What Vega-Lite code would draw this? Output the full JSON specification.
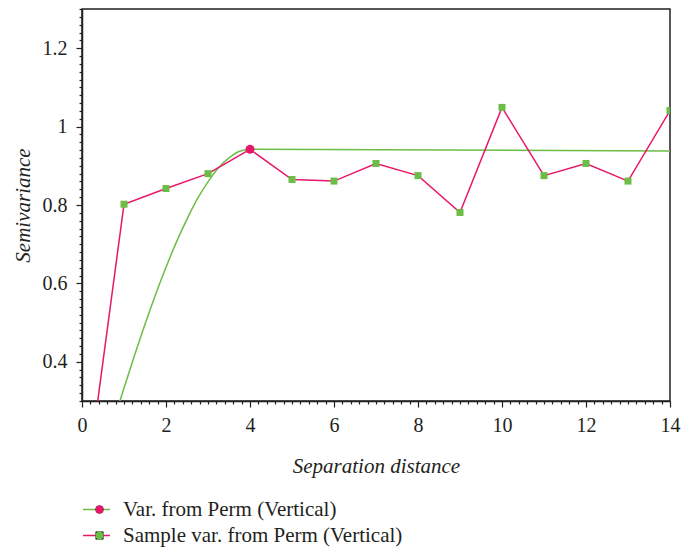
{
  "$schema": "https://vega.github.io/schema/vega-lite/v6.json",
  "width": 588,
  "height": 392,
  "autosize": {"type": "none"},
  "padding": {"left": 82, "top": 9, "right": 12, "bottom": 151},
  "background": "white",
  "config": {
    "font": "Liberation Serif",
    "view": {"stroke": "#231f20", "strokeWidth": 1.5},
    "axis": {
      "grid": false,
      "domainColor": "#231f20",
      "domainWidth": 1.5,
      "tickColor": "#231f20",
      "tickWidth": 1.2,
      "tickCount": 1000,
      "labelColor": "#231f20",
      "labelFont": "Liberation Serif",
      "labelFontSize": 20,
      "labelOverlap": false,
      "labelFlush": false,
      "titleColor": "#231f20",
      "titleFont": "Liberation Serif",
      "titleFontSize": 21,
      "titleFontStyle": "italic",
      "titleFontWeight": "normal"
    }
  },
  "datasets": {
    "model": [
      {"series": "Var. from Perm (Vertical)", "x": 0.85, "y": 0.282},
      {"series": "Var. from Perm (Vertical)", "x": 1.0, "y": 0.333},
      {"series": "Var. from Perm (Vertical)", "x": 1.25, "y": 0.416},
      {"series": "Var. from Perm (Vertical)", "x": 1.5, "y": 0.496},
      {"series": "Var. from Perm (Vertical)", "x": 1.75, "y": 0.571},
      {"series": "Var. from Perm (Vertical)", "x": 2.0, "y": 0.641},
      {"series": "Var. from Perm (Vertical)", "x": 2.25, "y": 0.706},
      {"series": "Var. from Perm (Vertical)", "x": 2.5, "y": 0.764},
      {"series": "Var. from Perm (Vertical)", "x": 2.75, "y": 0.816},
      {"series": "Var. from Perm (Vertical)", "x": 3.0, "y": 0.859},
      {"series": "Var. from Perm (Vertical)", "x": 3.25, "y": 0.895},
      {"series": "Var. from Perm (Vertical)", "x": 3.5, "y": 0.920},
      {"series": "Var. from Perm (Vertical)", "x": 3.75, "y": 0.937},
      {"series": "Var. from Perm (Vertical)", "x": 3.9, "y": 0.941},
      {"series": "Var. from Perm (Vertical)", "x": 4.0, "y": 0.942},
      {"series": "Var. from Perm (Vertical)", "x": 14.0, "y": 0.938}
    ],
    "sample": [
      {"series": "Sample var. from Perm (Vertical)", "x": 0, "y": 0.0},
      {"series": "Sample var. from Perm (Vertical)", "x": 1, "y": 0.802},
      {"series": "Sample var. from Perm (Vertical)", "x": 2, "y": 0.842},
      {"series": "Sample var. from Perm (Vertical)", "x": 3, "y": 0.880},
      {"series": "Sample var. from Perm (Vertical)", "x": 4, "y": 0.942},
      {"series": "Sample var. from Perm (Vertical)", "x": 5, "y": 0.865},
      {"series": "Sample var. from Perm (Vertical)", "x": 6, "y": 0.861},
      {"series": "Sample var. from Perm (Vertical)", "x": 7, "y": 0.906},
      {"series": "Sample var. from Perm (Vertical)", "x": 8, "y": 0.875},
      {"series": "Sample var. from Perm (Vertical)", "x": 9, "y": 0.781},
      {"series": "Sample var. from Perm (Vertical)", "x": 10, "y": 1.049},
      {"series": "Sample var. from Perm (Vertical)", "x": 11, "y": 0.875},
      {"series": "Sample var. from Perm (Vertical)", "x": 12, "y": 0.906},
      {"series": "Sample var. from Perm (Vertical)", "x": 13, "y": 0.861},
      {"series": "Sample var. from Perm (Vertical)", "x": 14, "y": 1.041}
    ],
    "points": [
      {"mseries": "Sample var. from Perm (Vertical)", "x": 1, "y": 0.802},
      {"mseries": "Sample var. from Perm (Vertical)", "x": 2, "y": 0.842},
      {"mseries": "Sample var. from Perm (Vertical)", "x": 3, "y": 0.880},
      {"mseries": "Sample var. from Perm (Vertical)", "x": 4, "y": 0.942},
      {"mseries": "Sample var. from Perm (Vertical)", "x": 5, "y": 0.865},
      {"mseries": "Sample var. from Perm (Vertical)", "x": 6, "y": 0.861},
      {"mseries": "Sample var. from Perm (Vertical)", "x": 7, "y": 0.906},
      {"mseries": "Sample var. from Perm (Vertical)", "x": 8, "y": 0.875},
      {"mseries": "Sample var. from Perm (Vertical)", "x": 9, "y": 0.781},
      {"mseries": "Sample var. from Perm (Vertical)", "x": 10, "y": 1.049},
      {"mseries": "Sample var. from Perm (Vertical)", "x": 11, "y": 0.875},
      {"mseries": "Sample var. from Perm (Vertical)", "x": 12, "y": 0.906},
      {"mseries": "Sample var. from Perm (Vertical)", "x": 13, "y": 0.861},
      {"mseries": "Sample var. from Perm (Vertical)", "x": 14, "y": 1.041},
      {"mseries": "Var. from Perm (Vertical)", "x": 4, "y": 0.942}
    ]
  },
  "layer": [
    {
      "data": {"name": "model"},
      "mark": {"type": "line", "strokeWidth": 1.5, "clip": true, "interpolate": "monotone"},
      "encoding": {
        "x": {
          "field": "x", "type": "quantitative",
          "scale": {"domain": [0, 14], "nice": false, "zero": false},
          "axis": {
            "title": "Separation distance",
            "values": [0,0.2,0.4,0.6,0.8,1,1.2,1.4,1.6,1.8,2,2.2,2.4,2.6,2.8,3,3.2,3.4,3.6,3.8,4,4.2,4.4,4.6,4.8,5,5.2,5.4,5.6,5.8,6,6.2,6.4,6.6,6.8,7,7.2,7.4,7.6,7.8,8,8.2,8.4,8.6,8.8,9,9.2,9.4,9.6,9.8,10,10.2,10.4,10.6,10.8,11,11.2,11.4,11.6,11.8,12,12.2,12.4,12.6,12.8,13,13.2,13.4,13.6,13.8,14],
            "format": "~g",
            "tickCount": 1000,
            "labelExpr": "abs(datum.value/2 - round(datum.value/2)) < 0.01 ? datum.label : ''",
            "tickSize": {"condition": {"test": "abs(datum.value/2 - round(datum.value/2)) < 0.01", "value": 6}, "value": 3},
            "labelPadding": 8,
            "titlePadding": 20
          }
        },
        "y": {
          "field": "y", "type": "quantitative",
          "scale": {"domain": [0.3, 1.3], "nice": false, "zero": false},
          "axis": {
            "title": "Semivariance",
            "values": [0.3,0.32,0.34,0.36,0.38,0.4,0.42,0.44,0.46,0.48,0.5,0.52,0.54,0.56,0.58,0.6,0.62,0.64,0.66,0.68,0.7,0.72,0.74,0.76,0.78,0.8,0.82,0.84,0.86,0.88,0.9,0.92,0.94,0.96,0.98,1,1.02,1.04,1.06,1.08,1.1,1.12,1.14,1.16,1.18,1.2,1.22,1.24,1.26,1.28,1.3],
            "format": "~g",
            "tickCount": 1000,
            "labelExpr": "abs(datum.value*5 - round(datum.value*5)) < 0.01 ? datum.label : ''",
            "tickSize": {"condition": {"test": "abs(datum.value*5 - round(datum.value*5)) < 0.01", "value": 6}, "value": 3},
            "labelPadding": 9,
            "titlePadding": 9
          }
        },
        "stroke": {
          "field": "series", "type": "nominal",
          "scale": {"domain": ["Var. from Perm (Vertical)", "Sample var. from Perm (Vertical)"], "range": ["#6cbd45", "#e8176b"]},
          "legend": {
            "title": null,
            "orient": "none",
            "legendX": 0,
            "legendY": 490,
            "symbolType": "stroke",
            "symbolSize": 729,
            "symbolStrokeWidth": 1.5,
            "labelFont": "Liberation Serif",
            "labelFontSize": 21,
            "labelColor": "#231f20",
            "labelOffset": 12,
            "labelLimit": 500,
            "clipHeight": 21,
            "rowPadding": 4
          }
        }
      }
    },
    {
      "data": {"name": "sample"},
      "mark": {"type": "line", "strokeWidth": 1.5, "clip": true},
      "encoding": {
        "x": {"field": "x", "type": "quantitative"},
        "y": {"field": "y", "type": "quantitative"},
        "stroke": {"field": "series", "type": "nominal"}
      }
    },
    {
      "data": {"name": "points"},
      "mark": {"type": "point", "filled": true, "opacity": 1, "strokeWidth": 0, "clip": true},
      "encoding": {
        "x": {"field": "x", "type": "quantitative"},
        "y": {"field": "y", "type": "quantitative"},
        "fill": {
          "field": "mseries", "type": "nominal",
          "sort": ["Var. from Perm (Vertical)", "Sample var. from Perm (Vertical)"],
          "scale": {"range": ["#e8176b", "#6cbd45"]},
          "legend": {
            "title": null,
            "orient": "none",
            "legendX": 7,
            "legendY": 490,
            "symbolSize": 64,
            "symbolStrokeWidth": 0,
            "labelFontSize": 21,
            "labelExpr": "''",
            "clipHeight": 21,
            "rowPadding": 4
          }
        },
        "shape": {
          "field": "mseries", "type": "nominal",
          "sort": ["Var. from Perm (Vertical)", "Sample var. from Perm (Vertical)"],
          "scale": {"range": ["circle", "square"]},
          "legend": {
            "title": null,
            "orient": "none",
            "legendX": 7,
            "legendY": 490,
            "symbolSize": 64,
            "symbolStrokeWidth": 0,
            "labelFontSize": 21,
            "labelExpr": "''",
            "clipHeight": 21,
            "rowPadding": 4
          }
        },
        "size": {
          "field": "mseries", "type": "nominal",
          "sort": ["Var. from Perm (Vertical)", "Sample var. from Perm (Vertical)"],
          "scale": {"range": [81, 49]},
          "legend": null
        }
      }
    }
  ]
}
